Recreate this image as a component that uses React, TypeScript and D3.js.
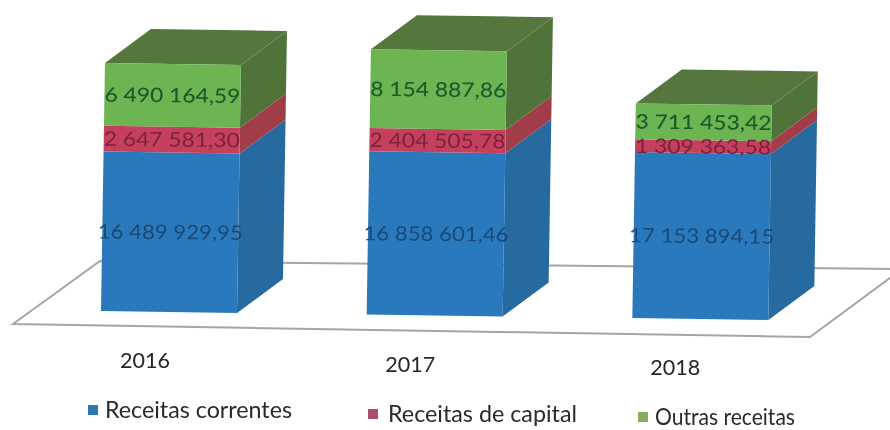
import React from "react";
import * as d3 from "d3";

const years = ["2016", "2017", "2018"];
const seriesNames = ["Receitas correntes", "Receitas de capital", "Outras receitas"];
const correntes = [16489929.95, 16858601.46, 17153894.15];
const capital = [2647581.3, 2404505.78, 1309363.58];
const outras = [6490164.59, 8154887.86, 3711453.42];
const correntesLabels = ["16 489 929,95", "16 858 601,46", "17 153 894,15"];
const capitalLabels = ["2 647 581,30", "2 404 505,78", "1 309 363,58"];
const outrasLabels = ["6 490 164,59", "8 154 887,86", "3 711 453,42"];

const frontColors = ["#2a79bd", "#c4405c", "#6db552"];
const sideColors = ["#256a9f", "#a03c48", "#4f7339"];
const topColor = "#55773e";
const labelColors = ["#1a4a75", "#7c2340", "#1f5a2c"];
const legendColors = ["#2f78b0", "#a8506a", "#86ad62"];

const W = 890;
const H = 430;
const BAR_W = 136;
const DEPTH_X = 46;
const DEPTH_Y = -34;
const LEAN = 0.016;

const x = d3.scaleBand<string>().domain(years).range([101, 898]).paddingInner(0).paddingOuter(0);
const base = d3.scalePoint<string>().domain(years).range([311, 318]);
const h = d3.scaleLinear().domain([0, 28000000]).range([0, 271]);
const line = d3.line<[number, number]>().curve(d3.curveLinearClosed);

function P(i: number, value: number, u: number, d: number): [number, number] {
  const y0 = base(years[i])! + u * 2;
  const hh = h(value);
  return [x(years[i])! + u * BAR_W + d * DEPTH_X + hh * LEAN, y0 - hh + d * DEPTH_Y];
}

const floor: [number, number][] = [[13, 324], [100, 261], [902, 269], [810, 337]];
const stacks = [correntes, capital, outras];
const stackLabels = [correntesLabels, capitalLabels, outrasLabels];
const legendX = [88, 368, 638];
const legendTextX = [105, 388, 655];
const legendTextLen = [187, 189, 140];
const legendBaseline = [418, 422, 425];
const labelFont = "Lato, 'Open Sans', sans-serif";

export default function App() {
  return (
    <svg width={W} height={H} viewBox={`0 0 ${W} ${H}`} style={{ position: "absolute", left: 0, top: 0, background: "#fff" }}>
      <defs>
        <filter id="soft" x="-5%" y="-5%" width="110%" height="110%">
          <feGaussianBlur stdDeviation="0.7" />
        </filter>
      </defs>
      <g filter="url(#soft)">
        <path d={line(floor)!} fill="#fff" stroke="#a8a5a2" strokeWidth={2} />
        {years.map((yr, i) => {
          let acc = 0;
          const total = correntes[i] + capital[i] + outras[i];
          const parts = stacks.map((s, k) => {
            const v0 = acc;
            acc += s[i];
            return { k, v0, v1: acc };
          });
          return (
            <g key={yr}>
              {parts.map(({ k, v0, v1 }) => (
                <path key={"s" + k} d={line([P(i, v0, 1, 0), P(i, v1, 1, 0), P(i, v1, 1, 1), P(i, v0, 1, 1)])!} fill={sideColors[k]} />
              ))}
              <path d={line([P(i, total, 0, 0), P(i, total, 1, 0), P(i, total, 1, 1), P(i, total, 0, 1)])!} fill={topColor} />
              {parts.map(({ k, v0, v1 }) => (
                <path key={"f" + k} d={line([P(i, v0, 0, 0), P(i, v0, 1, 0), P(i, v1, 1, 0), P(i, v1, 0, 0)])!} fill={frontColors[k]} />
              ))}
              {parts.map(({ k, v0, v1 }) => {
                const [px, py] = P(i, (v0 + v1) / 2, 0.5, 0);
                return (
                  <text key={"t" + k} x={px} y={py} dy="0.35em" textAnchor="middle" fontFamily={labelFont} fontSize={20} fill={labelColors[k]} fontWeight={k === 2 ? 500 : 400} textLength={k === 0 ? 145 : 136} lengthAdjust="spacingAndGlyphs" transform={`rotate(0.6 ${px} ${py})`}>
                    {stackLabels[k][i]}
                  </text>
                );
              })}
              <text x={x(yr)! + 44} y={base(yr)! + 57} textAnchor="middle" dx={i * -0.5} fontFamily={labelFont} fontSize={22} textLength={50} lengthAdjust="spacingAndGlyphs" fill="#26262a">
                {yr}
              </text>
            </g>
          );
        })}
        {seriesNames.map((n, k) => (
          <g key={n}>
            <rect x={legendX[k]} y={legendBaseline[k] - 13} width={10} height={10} fill={legendColors[k]} />
            <text x={legendTextX[k]} y={legendBaseline[k]} fontFamily={labelFont} fontSize={23} textLength={legendTextLen[k]} lengthAdjust="spacingAndGlyphs" fill="#2a2a2e">
              {n}
            </text>
          </g>
        ))}
      </g>
    </svg>
  );
}
